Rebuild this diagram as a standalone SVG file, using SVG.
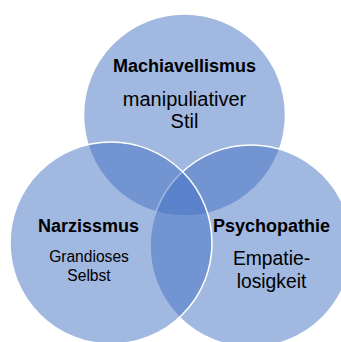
<svg xmlns="http://www.w3.org/2000/svg" width="341" height="342" viewBox="0 0 341 342">
<style>
.c{fill:#4472C4;fill-opacity:0.5;stroke:#fff;stroke-width:1.5}
.t{font-family:"Liberation Sans",Arial,sans-serif;fill:#000;text-anchor:middle}
.b{font-weight:bold;font-size:18px}
</style>
<rect width="341" height="342" fill="#fff"/>
<g id="machiavellismus">
<circle class="c" cx="184.5" cy="115" r="101"/>
</g>
<g id="psychopathie">
<circle class="c" cx="251" cy="246" r="101"/>
</g>
<g id="narzissmus">
<circle class="c" cx="111" cy="243" r="101"/>
</g>
<g id="labels-machiavellismus">
<text class="t b" x="184.5" y="72">Machiavellismus</text>
<text class="t" x="184.5" y="106" font-size="20">manipuliativer</text>
<text class="t" x="184.5" y="128" font-size="20">Stil</text>
</g>
<g id="labels-narzissmus">
<text class="t b" x="88.5" y="232">Narzissmus</text>
<text class="t" x="89" y="262" font-size="15.6">Grandioses</text>
<text class="t" x="89" y="281" font-size="15.6">Selbst</text>
</g>
<g id="labels-psychopathie">
<text class="t b" x="271.5" y="232">Psychopathie</text>
<text class="t" x="271.5" y="265" font-size="19.3">Empatie-</text>
<text class="t" x="271.5" y="288" font-size="19.3">losigkeit</text>
</g>
<g id="connectors"/>
</svg>
